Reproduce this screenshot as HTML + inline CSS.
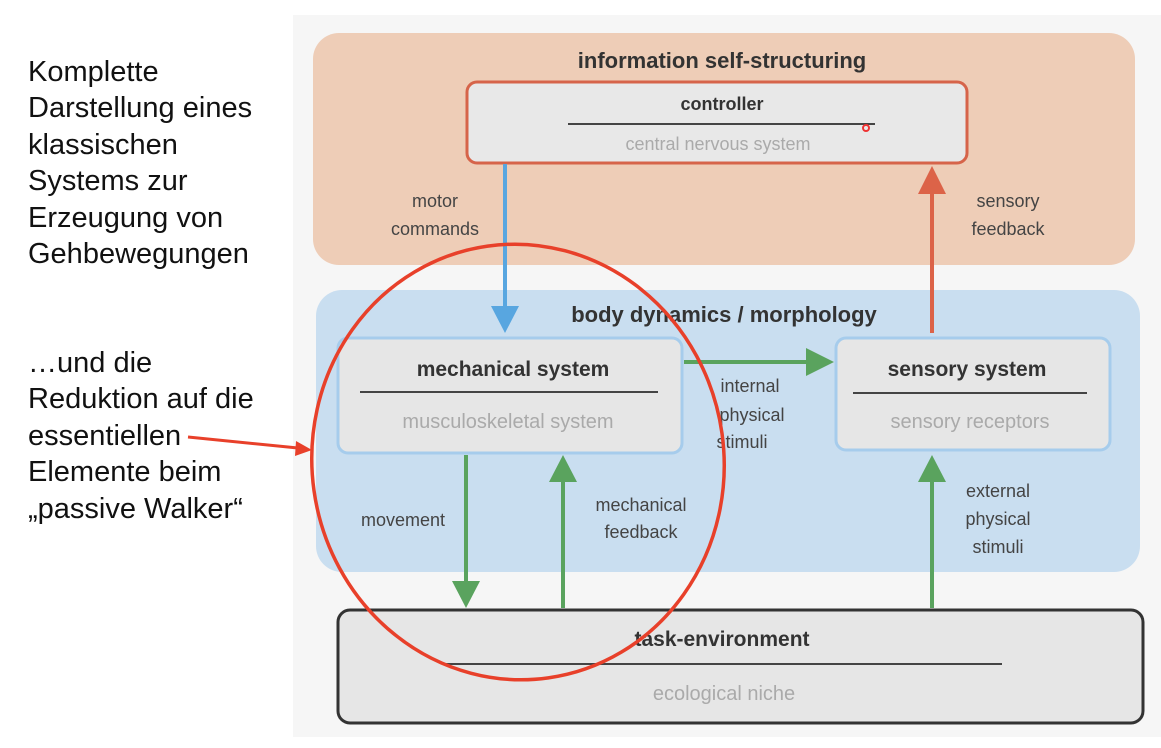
<!DOCTYPE html>
<html><head><meta charset="utf-8"><style>
body{margin:0;width:1161px;height:748px;background:#fff;overflow:hidden;font-family:"Liberation Sans",sans-serif}
.t{position:absolute;left:28px;font-size:29px;line-height:36.4px;color:#111;white-space:nowrap}
</style></head><body>
<div class="t" style="top:54px">Komplette<br>Darstellung eines<br>klassischen<br>Systems zur<br>Erzeugung von<br>Gehbewegungen</div>
<div class="t" style="top:345px">…und die<br>Reduktion auf die<br>essentiellen<br>Elemente beim<br>„passive Walker“</div>
<svg width="1161" height="748" style="position:absolute;left:0;top:0" font-family="Liberation Sans, sans-serif">
<rect x="293" y="15" width="868" height="722" fill="#f6f6f6"/>
<rect x="313" y="33" width="822" height="232" rx="26" fill="#eecdb7"/>
<text x="722" y="68" text-anchor="middle" font-size="22" font-weight="bold" fill="#333">information self-structuring</text>
<rect x="467" y="82" width="500" height="81" rx="10" fill="#e8e8e8" stroke="#d6644a" stroke-width="3"/>
<text x="722" y="110" text-anchor="middle" font-size="18" font-weight="bold" fill="#333">controller</text>
<line x1="568" y1="124" x2="875" y2="124" stroke="#444" stroke-width="2"/>
<circle cx="866" cy="128" r="3" fill="none" stroke="#e33" stroke-width="2"/>
<text x="718" y="150" text-anchor="middle" font-size="18" fill="#aaa">central nervous system</text>
<rect x="316" y="290" width="824" height="282" rx="26" fill="#c9def0"/>
<text x="724" y="322" text-anchor="middle" font-size="22" font-weight="bold" fill="#333">body dynamics / morphology</text>
<rect x="338" y="338" width="344" height="115" rx="10" fill="#e6e6e6" stroke="#a6ccec" stroke-width="3"/>
<text x="513" y="376" text-anchor="middle" font-size="21" font-weight="bold" fill="#333">mechanical system</text>
<line x1="360" y1="392" x2="658" y2="392" stroke="#444" stroke-width="2"/>
<text x="508" y="428" text-anchor="middle" font-size="20" fill="#aaa">musculoskeletal system</text>
<rect x="836" y="338" width="274" height="112" rx="10" fill="#e6e6e6" stroke="#a6ccec" stroke-width="3"/>
<text x="967" y="376" text-anchor="middle" font-size="21" font-weight="bold" fill="#333">sensory system</text>
<line x1="853" y1="393" x2="1087" y2="393" stroke="#444" stroke-width="2"/>
<text x="970" y="428" text-anchor="middle" font-size="20" fill="#aaa">sensory receptors</text>
<g font-size="18" fill="#444" text-anchor="middle">
<text x="435" y="207">motor</text><text x="435" y="235">commands</text>
<text x="1008" y="207">sensory</text><text x="1008" y="235">feedback</text>
<text x="750" y="392">internal</text><text x="752" y="421">physical</text><text x="742" y="448">stimuli</text>
<text x="403" y="526">movement</text>
<text x="641" y="511">mechanical</text><text x="641" y="538">feedback</text>
<text x="998" y="497">external</text><text x="998" y="525">physical</text><text x="998" y="553">stimuli</text>
</g>
<line x1="505" y1="164" x2="505" y2="308" stroke="#58a6e0" stroke-width="4"/>
<polygon points="491,306 519,306 505,333" fill="#58a6e0"/>
<line x1="932" y1="333" x2="932" y2="192" stroke="#dc6348" stroke-width="4"/>
<polygon points="918,194 946,194 932,166" fill="#dc6348"/>
<line x1="684" y1="362" x2="808" y2="362" stroke="#5aa35e" stroke-width="4"/>
<polygon points="806,348 834,362 806,376" fill="#5aa35e"/>
<line x1="466" y1="455" x2="466" y2="583" stroke="#5aa35e" stroke-width="4"/>
<polygon points="452,581 480,581 466,608" fill="#5aa35e"/>
<line x1="563" y1="608" x2="563" y2="480" stroke="#5aa35e" stroke-width="4"/>
<polygon points="549,482 577,482 563,455" fill="#5aa35e"/>
<line x1="932" y1="608" x2="932" y2="480" stroke="#5aa35e" stroke-width="4"/>
<polygon points="918,482 946,482 932,455" fill="#5aa35e"/>
<rect x="338" y="610" width="805" height="113" rx="12" fill="#e6e6e6" stroke="#333" stroke-width="3"/>
<text x="722" y="646" text-anchor="middle" font-size="21" font-weight="bold" fill="#333">task-environment</text>
<line x1="445" y1="664" x2="1002" y2="664" stroke="#444" stroke-width="2"/>
<text x="724" y="700" text-anchor="middle" font-size="20" fill="#aaa">ecological niche</text>
<ellipse cx="518" cy="462" rx="206" ry="218" fill="none" stroke="#e8402a" stroke-width="3.5" transform="rotate(-8 518 462)"/>
<line x1="188" y1="437" x2="298" y2="448" stroke="#e8402a" stroke-width="3"/>
<polygon points="296,441 312,450 295,456" fill="#e8402a"/>
</svg>
</body></html>
